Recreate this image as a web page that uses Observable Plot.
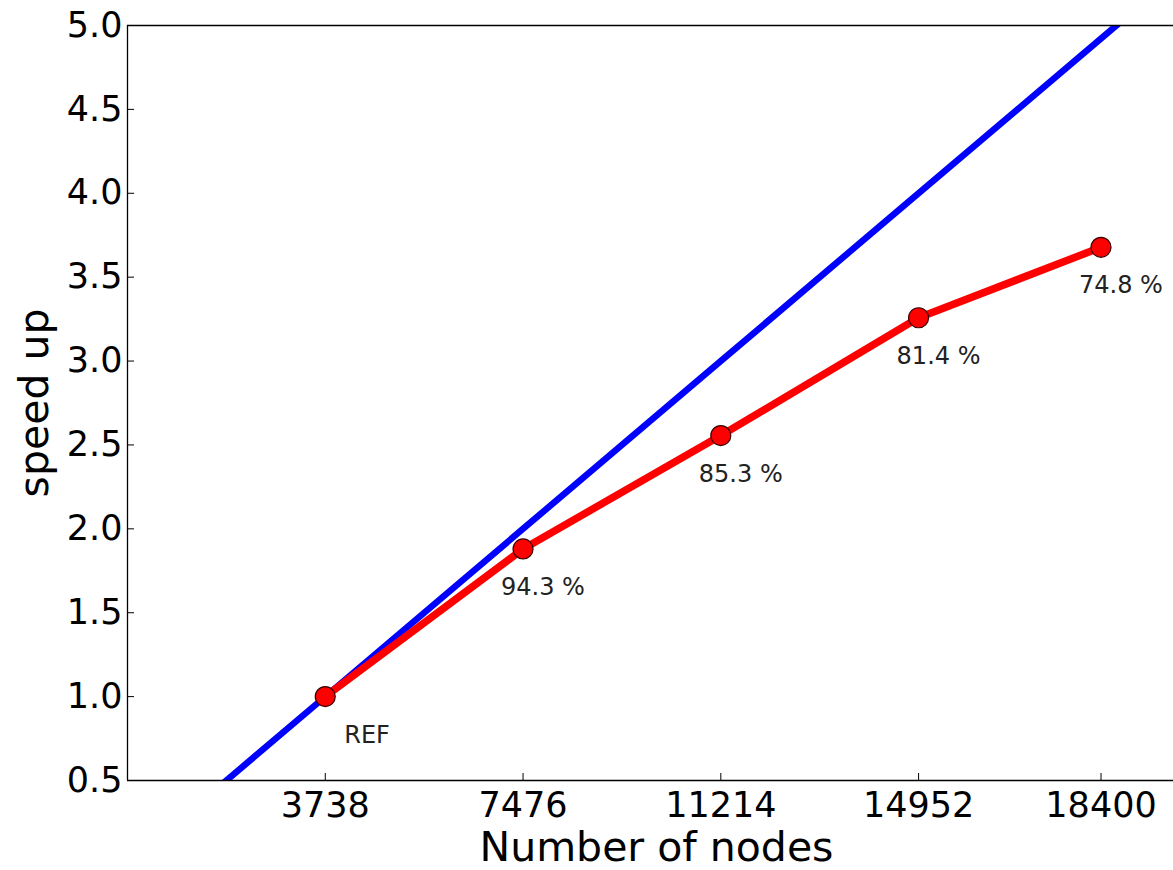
<!DOCTYPE html>
<html>
<head>
<meta charset="utf-8">
<script src="https://cdn.jsdelivr.net/npm/d3@7"></script>
<script src="https://cdn.jsdelivr.net/npm/@observablehq/plot@0.6"></script>
<style>
  html, body { margin: 0; padding: 0; background: #fff; overflow: hidden; }
  #chart { width: 1173px; height: 870px; overflow: hidden; }
</style>
</head>
<body>
<div id="chart"></div>
<script>
// Measured series
const nodes = [3738, 7476, 11214, 14952, 18400];
const speedup = [1.0, 1.88, 2.556, 3.258, 3.678];
const efficiencyLabels = ["REF", "94.3 %", "85.3 %", "81.4 %", "74.8 %"];

// Ideal (linear) speed-up line
const idealNodes = [0, 3738, 7476, 11214, 14952, 18690, 20000];
const idealSpeed = [0, 1, 2, 3, 4, 5, 5.35];

// Axis ticks
const xTicks = [3738, 7476, 11214, 14952, 18400];
const yTicks = [0.5, 1.0, 1.5, 2.0, 2.5, 3.0, 3.5, 4.0, 4.5, 5.0];

const xLabel = "Number of nodes";
const yLabel = "speed up";

// Visible x range (the original figure is cropped at the right)
const xDomain = [0, 19770];
const yDomain = [0.5, 5.0];

const measured = nodes.map((n, i) => ({n, s: speedup[i], label: efficiencyLabels[i]}));
const ideal = idealNodes.map((n, i) => ({n, s: idealSpeed[i]}));

const chart = Plot.plot({
  width: 1173,
  height: 870,
  marginLeft: 127,
  marginRight: 0,
  marginTop: 25,
  marginBottom: 90,
  style: {fontFamily: "'DejaVu Sans', sans-serif", fontSize: "35px", color: "#000", background: "#fff"},
  x: {domain: xDomain, ticks: xTicks, tickFormat: d => String(d)},
  y: {domain: yDomain, ticks: yTicks, tickFormat: d => d.toFixed(1)},
  marks: [
    Plot.line(ideal, {x: "n", y: "s", stroke: "#0000ff", strokeWidth: 6.5, clip: true}),
    Plot.line(measured, {x: "n", y: "s", stroke: "#ff0000", strokeWidth: 7.5}),
    Plot.dot(measured, {x: "n", y: "s", r: 10, fill: "#ff0000", stroke: "#3a0000", strokeWidth: 1.2}),
    Plot.text(measured.filter(d => d.label === "REF"), {
      x: "n", y: "s", text: "label", textAnchor: "start", lineAnchor: "bottom",
      dx: 19, dy: 46, fontSize: 24, fill: "#222"
    }),
    Plot.text(measured.filter(d => d.label !== "REF"), {
      x: "n", y: "s", text: "label", textAnchor: "start", lineAnchor: "bottom",
      dx: -22, dy: 46, fontSize: 24, fill: "#222"
    }),
    Plot.axisX({anchor: "bottom", ticks: xTicks, tickFormat: d => String(d), tickSize: -7, tickPadding: 19, label: null, fontSize: 35}),
    Plot.axisY({anchor: "left", ticks: yTicks, tickFormat: d => d.toFixed(1), tickSize: -7, tickPadding: 12, label: null, fontSize: 35}),
    Plot.ruleY(yDomain, {stroke: "#000", strokeWidth: 1.3}),
    Plot.ruleX([xDomain[0]], {stroke: "#000", strokeWidth: 1.3}),
    Plot.text([xLabel], {frameAnchor: "bottom", textAnchor: "middle", lineAnchor: "bottom", dx: 6, dy: 80, fontSize: 41, fill: "#000"}),
    Plot.text([yLabel], {frameAnchor: "left", textAnchor: "middle", lineAnchor: "bottom", rotate: -90, dx: -80, fontSize: 41, fill: "#000"})
  ]
});

document.getElementById("chart").appendChild(chart);
</script>
</body>
</html>
